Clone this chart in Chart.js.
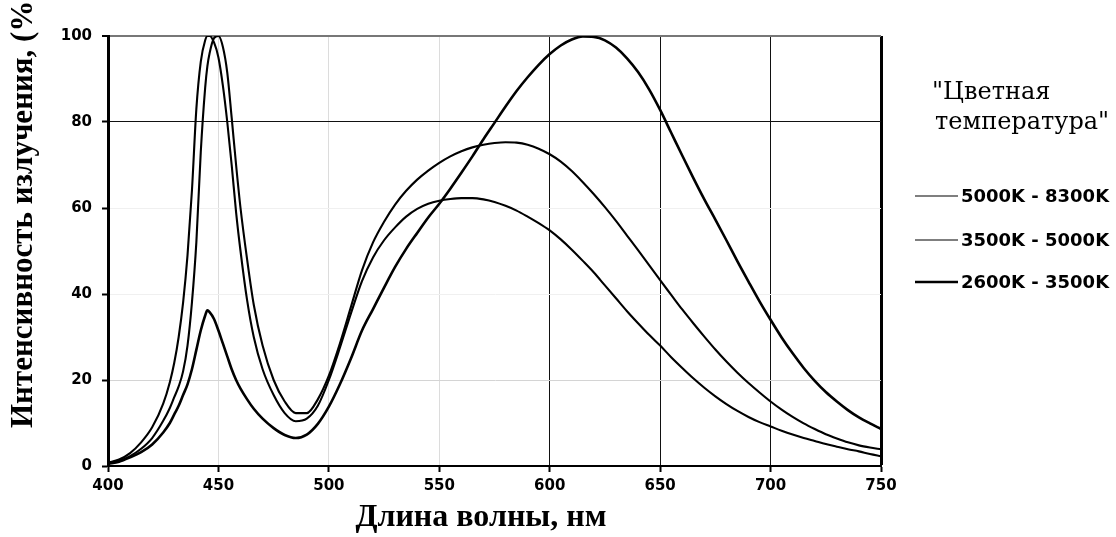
<!DOCTYPE html>
<html>
<head>
<meta charset="utf-8">
<script src="https://cdn.jsdelivr.net/npm/chart.js@4.4.1/dist/chart.umd.min.js"></script>
<style>
  body { margin: 0; background: #fff; }
  #wrap { width: 1116px; height: 537px; }
</style>
</head>
<body>
<div id="wrap"><canvas id="chart" width="1116" height="537"></canvas></div>
<script>
// wavelength, nm
const wavelengths = [400,405,410,415,420,425,428,430,432,434,436,438,440,442,444,445,446,448,450,452,454,456,458,460,463,466,470,475,480,485,490,495,500,505,510,515,520,525,530,535,540,545,550,555,560,565,570,575,580,585,590,595,600,605,610,615,620,625,630,635,640,645,650,655,660,665,670,675,680,685,690,695,700,705,710,715,720,725,730,735,740,745,750];

// 5000K - 8300K
const cool = [0.8,1.5,3,5.5,9,14.5,19.5,24,30,38,49,64,83,94,99,100,100,98.5,95,88.5,80,70,59,50,38.5,30,22.5,16.5,12.3,10.4,11,14,20,27.5,35.5,43,48.5,52.5,55.5,58,59.8,61,61.7,62.1,62.3,62.3,62,61.4,60.5,59.4,58,56.5,54.8,52.7,50.3,47.7,45,42,39,36,33.2,30.5,28,25.3,22.8,20.4,18.2,16.2,14.4,12.8,11.4,10.2,9.2,8.2,7.3,6.5,5.8,5.1,4.5,3.9,3.4,2.8,2.3];

// 3500K - 5000K
const neutral = [0.6,1.2,2.3,4,6.5,10.5,13.5,16,18.5,22,28,38,52,73,88,93,96,99.5,100,97.5,91.5,81,70,60,48,37.5,28,20,15,12.3,12.3,15.5,21,28.5,37,45.5,52,56.8,60.8,64,66.6,68.7,70.5,72,73.2,74.1,74.7,75.1,75.3,75.2,74.7,73.8,72.5,70.8,68.6,66,63.2,60.2,57,53.6,50.2,46.7,43.2,39.8,36.4,33.2,30.1,27.1,24.3,21.7,19.3,17.1,15,13.1,11.4,9.9,8.6,7.4,6.4,5.5,4.8,4.3,3.9];

// 2600K - 3500K
const warm = [0.5,1,2,3.2,5,7.8,10,12,14,16.5,19,22.5,27,31.5,35,36.2,35.8,34.2,31.5,28.5,25.5,22.5,20,18,15.5,13.3,11,8.8,7.2,6.5,7.3,9.8,13.8,19,25,31.5,36.5,41.5,46.3,50.5,54.2,57.8,61,64.5,68.2,72,76,79.8,83.6,87.2,90.4,93.3,95.8,97.8,99.2,99.9,99.8,99,97.3,94.8,91.6,87.6,82.8,77.5,72.2,67,62,57.3,52.5,47.6,42.9,38.3,34,29.9,26.2,22.8,19.8,17.2,15,13,11.3,9.9,8.6];

const seriesLabels = ['5000K - 8300K', '3500K - 5000K', '2600K - 3500K'];
const legendTitle = ['"Цветная', 'температура"'];
const xTitle = 'Длина волны, нм';
const yTitle = 'Интенсивность излучения, (%)';

const lineWidths = [2.1, 2.1, 2.6];
const legendWidths = [1.2, 1.2, 2.6];

function toPoints(vals) {
    return wavelengths.map((w, i) => ({ x: w, y: vals[i] }));
}

const datasets = [cool, neutral, warm].map((vals, i) => ({
    label: seriesLabels[i],
    data: toPoints(vals),
    borderColor: '#000',
    borderWidth: lineWidths[i],
    pointRadius: 0,
    fill: false,
    cubicInterpolationMode: 'monotone'
}));

// titles and the legend are drawn by hand, the original has them off-centre
const extraText = {
    id: 'extraText',
    afterDraw(chart) {
        const ctx = chart.ctx;
        ctx.save();
        ctx.fillStyle = '#000';

        // y title, rotated, starting near the bottom
        ctx.save();
        ctx.translate(24, 428);
        ctx.rotate(-Math.PI / 2);
        ctx.font = 'bold 31px "Liberation Serif"';
        ctx.textAlign = 'left';
        ctx.textBaseline = 'middle';
        ctx.fillText(yTitle, 0, 0);
        ctx.restore();

        // x title
        ctx.font = 'bold 32px "Liberation Serif"';
        ctx.textAlign = 'center';
        ctx.textBaseline = 'middle';
        ctx.fillText(xTitle, 481, 518);

        // legend
        ctx.font = '24px "DejaVu Serif"';
        ctx.textAlign = 'left';
        ctx.fillText(legendTitle[0], 932, 93);
        ctx.fillText(legendTitle[1], 935, 123);

        const rows = [196, 240, 282];
        ctx.font = 'bold 18px "DejaVu Sans"';
        seriesLabels.forEach((lab, i) => {
            ctx.strokeStyle = '#000';
            ctx.lineWidth = legendWidths[i];
            ctx.beginPath();
            ctx.moveTo(915, rows[i]);
            ctx.lineTo(958, rows[i]);
            ctx.stroke();
            ctx.fillText(lab, 961, rows[i] + 1);
        });
        ctx.restore();
    }
};

const strongX = [600, 650, 700];

new Chart('chart', {
    type: 'line',
    data: { datasets: datasets },
    options: {
        responsive: false,
        animation: false,
        devicePixelRatio: 1,
        layout: { padding: { left: 0, top: 36, right: 235, bottom: 0 } },
        plugins: { legend: { display: false }, tooltip: { enabled: false } },
        scales: {
            x: {
                type: 'linear',
                min: 400,
                max: 750,
                afterFit: (s) => { s.height = 71; },
                ticks: {
                    stepSize: 50,
                    color: '#000',
                    padding: 5,
                    font: { family: 'DejaVu Sans', weight: 'bold', size: 15 }
                },
                grid: {
                    color: (c) => {
                        const v = c.tick && c.tick.value;
                        if (v === 750) return '#000';
                        if (strongX.includes(v)) return '#111';
                        if (v === 400) return 'rgba(0,0,0,0)';
                        return '#dcdcdc';
                    },
                    lineWidth: (c) => (c.tick && c.tick.value === 750 ? 3 : 1),
                    tickColor: '#000',
                    tickLength: 6,
                    tickWidth: 2
                },
                border: { color: '#000', width: 2 }
            },
            y: {
                min: 0,
                max: 100,
                afterFit: (s) => { s.width = 108; },
                ticks: {
                    stepSize: 20,
                    color: '#000',
                    padding: 10,
                    font: { family: 'DejaVu Sans', weight: 'bold', size: 15 }
                },
                grid: {
                    color: (c) => {
                        const v = c.tick && c.tick.value;
                        if (v === 80) return '#111';
                        if (v === 100) return '#777';
                        if (v === 20) return '#d4d4d4';
                        if (v === 0) return 'rgba(0,0,0,0)';
                        return '#f0f0f0';
                    },
                    lineWidth: (c) => (c.tick && c.tick.value === 100 ? 2 : 1),
                    tickColor: '#000',
                    tickLength: 6,
                    tickWidth: 2
                },
                border: { color: '#000', width: 3 }
            }
        }
    },
    plugins: [extraText]
});
</script>
</body>
</html>
